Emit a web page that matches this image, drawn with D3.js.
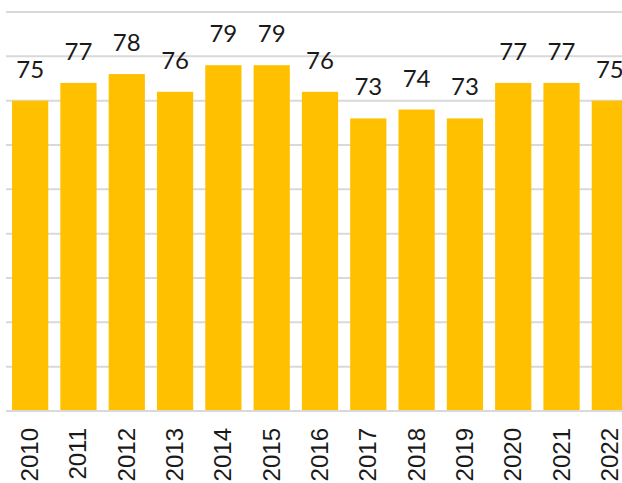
<!DOCTYPE html>
<html>
<head>
<meta charset="utf-8">
<script src="https://cdn.jsdelivr.net/npm/d3@7"></script>
<style>
  body { margin: 0; background: #fff; }
  svg { display: block; }
</style>
</head>
<body>
<script>
// values
const years = ['2010','2011','2012','2013','2014','2015','2016','2017','2018','2019','2020','2021','2022'];
const values = [75, 77, 78, 76, 79, 79, 76, 73, 74, 73, 77, 77, 75];
const gridTicks = [45, 50, 55, 60, 65, 70, 75, 80, 85];

const width = 622, height = 483;

const svg = d3.select('body').append('svg')
    .attr('width', width).attr('height', height);

// plot runs past the right edge, like the reference crop
const x = d3.scaleBand().domain(years).range([6, 634]).paddingInner(0.25).paddingOuter(0.125);
const y = d3.scaleLinear().domain([40, 85]).range([411, 12]);

// gridlines
svg.append('g')
    .selectAll('line').data(gridTicks).join('line')
    .attr('x1', 6).attr('x2', width)
    .attr('y1', d => y(d)).attr('y2', d => y(d))
    .attr('stroke', '#d9d9d9').attr('stroke-width', 2);

svg.append('g')
    .selectAll('rect').data(values).join('rect')
    .attr('x', (d, i) => x(years[i]))
    .attr('width', x.bandwidth())
    .attr('y', d => y(d))
    .attr('height', d => y(40) - y(d))
    .attr('fill', '#ffc000');

// baseline
svg.append('line')
    .attr('x1', 6).attr('x2', width)
    .attr('y1', y(40)).attr('y2', y(40))
    .attr('stroke', '#d9d9d9').attr('stroke-width', 2);

// value labels
svg.append('g')
    .attr('font-family', 'Lato, "Noto Sans", sans-serif')
    .attr('font-size', 24).attr('fill', '#1a1a1a').attr('text-anchor', 'middle')
    .selectAll('text').data(values).join('text')
    .attr('x', (d, i) => x(years[i]) + x.bandwidth() / 2)
    .attr('y', d => y(d) - 23)
    .text(d => d);

// year labels, rotated
const xAxis = svg.append('g')
    .attr('transform', `translate(0,${y(40)})`)
    .call(d3.axisBottom(x).tickSize(0).tickPadding(0));
xAxis.select('.domain').remove();
xAxis.selectAll('text')
    .attr('font-family', '"Liberation Sans", Arial, sans-serif')
    .attr('font-size', 24).attr('fill', '#1a1a1a')
    .attr('text-anchor', 'end')
    .attr('dy', null)
    .attr('transform', 'translate(8,17) rotate(-90)');
</script>
</body>
</html>
